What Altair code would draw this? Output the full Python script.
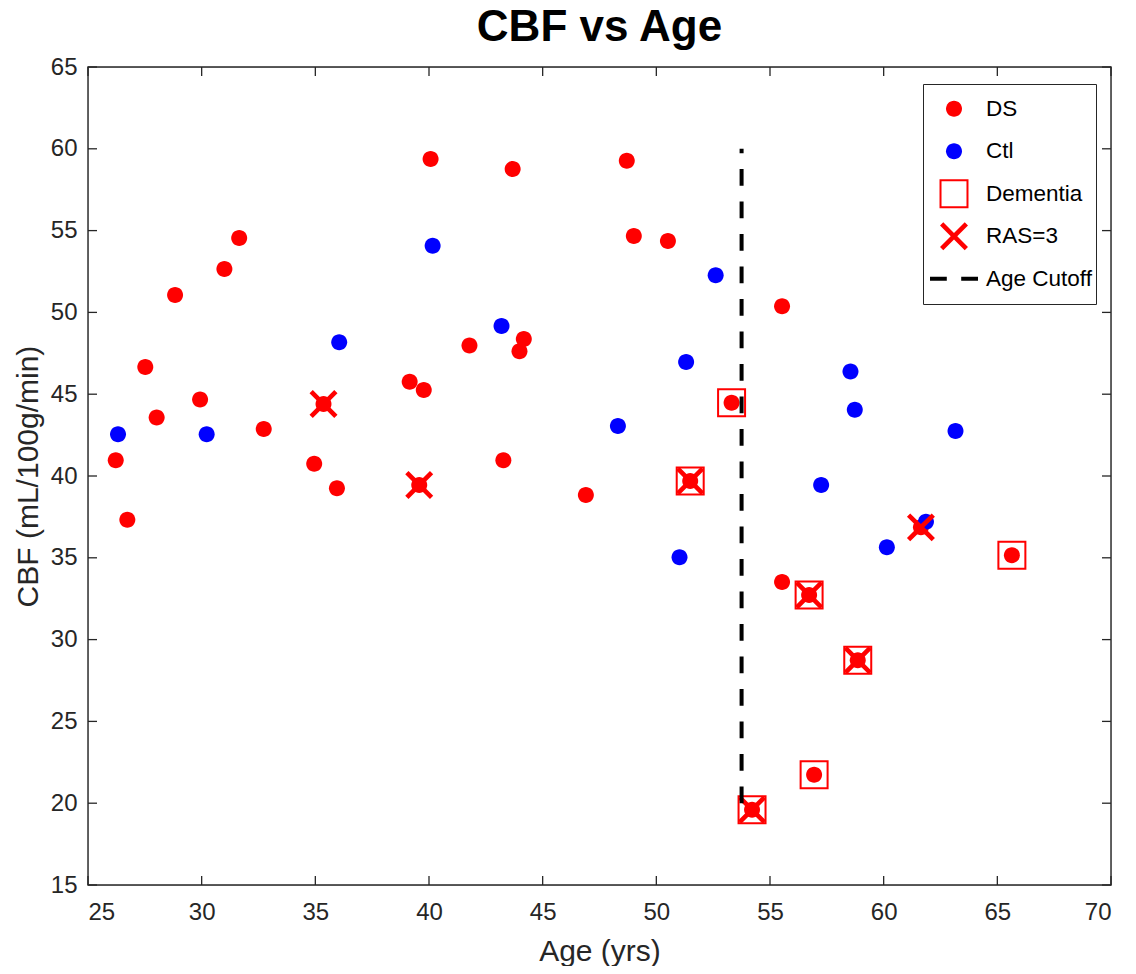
import altair as alt
import pandas as pd

# ---------------- data ----------------
ds_age = [26.22, 26.73, 27.52, 28.02, 28.83, 29.93, 31.0, 31.65, 32.73, 34.95,
          35.36, 35.95, 39.15, 39.57, 39.77, 40.07, 41.78, 43.27, 43.68, 43.98,
          44.17, 46.9, 48.7, 49.01, 50.51, 51.49, 53.31, 54.21, 55.53, 55.53,
          56.72, 56.94, 58.86, 61.64, 65.64]
ds_cbf = [40.96, 37.33, 46.66, 43.57, 51.06, 44.67, 52.65, 54.55, 42.87, 40.75,
          44.4, 39.25, 45.76, 39.45, 45.25, 59.38, 47.97, 40.96, 58.77, 47.62,
          48.37, 38.84, 59.27, 54.67, 54.36, 39.69, 44.48, 19.6, 50.37, 33.52,
          32.72, 21.74, 28.74, 36.86, 35.16]

ctl_age = [26.32, 30.22, 36.05, 40.16, 43.19, 48.31, 51.02, 51.31, 52.61, 57.25,
           58.54, 58.73, 60.14, 61.86, 63.16]
ctl_cbf = [42.55, 42.55, 48.17, 54.08, 49.17, 43.06, 35.03, 46.97, 52.27, 39.45,
           46.38, 44.05, 35.64, 37.2, 42.75]

dem_age = [53.31, 51.49, 56.72, 58.86, 56.94, 54.21, 65.64]
dem_cbf = [44.48, 39.69, 32.72, 28.74, 21.74, 19.6, 35.16]

ras_age = [35.36, 39.57, 61.64, 51.49, 56.72, 58.86, 54.21]
ras_cbf = [44.4, 39.45, 36.86, 39.69, 32.72, 28.74, 19.6]

cutoff_age = [53.75]
cutoff_lo = [20]
cutoff_hi = [60]

series_names = ["DS", "Ctl", "Dementia", "RAS=3", "Age Cutoff"]
x_ticks = [25, 30, 35, 40, 45, 50, 55, 60, 65, 70]
y_ticks = [15, 20, 25, 30, 35, 40, 45, 50, 55, 60, 65]

# ---------------- styles ----------------
W, H = 1023, 818
AX = "#262626"
FONT = "Liberation Sans"
SYM = 2304  # symbol size -> 48px box, paths below are in that unit box

circle_path = "M-0.3333,0A0.3333,0.3333,0,1,1,0.3333,0A0.3333,0.3333,0,1,1,-0.3333,0Z"
square_path = ("M-0.604,-0.604L0.604,-0.604L0.604,0.604L-0.604,0.604Z "
               "M-0.52,-0.52L-0.52,0.52L0.52,0.52L0.52,-0.52Z")
x_path = ("M0.583,0.447L0.447,0.583L0,0.136L-0.447,0.583L-0.583,0.447L-0.136,0"
          "L-0.583,-0.447L-0.447,-0.583L0,-0.136L0.447,-0.583L0.583,-0.447L0.136,0Z")
dash_path = ("M-1,-0.083L-0.3,-0.083L-0.3,0.083L-1,0.083Z "
             "M0.3,-0.083L1,-0.083L1,0.083L0.3,0.083Z")

color_scale = alt.Scale(domain=series_names,
                        range=["#ff0000", "#0000ff", "#ff0000", "#ff0000", "#000000"])
shape_scale = alt.Scale(domain=series_names,
                        range=[circle_path, circle_path, square_path, x_path, dash_path])

legend = alt.Legend(
    title=None, orient="none", legendX=835, legendY=17,
    strokeColor=AX, fillColor="white", padding=4, cornerRadius=0,
    labelFont=FONT, labelFontSize=22.5, labelColor="black",
    symbolSize=SYM, symbolStrokeWidth=0, symbolOpacity=1,
    clipHeight=41.5, rowPadding=0.5, symbolOffset=3, labelOffset=8,
)

x_scale = alt.Scale(domain=[25, 70], nice=False, zero=False)
y_scale = alt.Scale(domain=[15, 65], nice=False, zero=False)

x_axis = alt.Axis(values=x_ticks, ticks=False, tickSize=0, domain=False, grid=False,
                  labelFontSize=24, labelPadding=15, labelColor=AX, labelFont=FONT,
                  title="Age (yrs)", titleFontSize=30, titleFontWeight="normal",
                  titleColor=AX, titleFont=FONT, titleX=W / 2, titleY=75,
                  titleBaseline="alphabetic", titleAlign="center")
y_axis = alt.Axis(values=y_ticks, ticks=False, tickSize=0, domain=False, grid=False,
                  labelFontSize=24, labelPadding=11, labelColor=AX, labelFont=FONT,
                  title="CBF (mL/100g/min)", titleFontSize=30, titleFontWeight="normal",
                  titleColor=AX, titleFont=FONT, titleX=-51, titleY=H / 2,
                  titleBaseline="alphabetic", titleAlign="center", titleAngle=270)


def X(field):
    return alt.X(field, scale=x_scale, axis=x_axis)


def Y(field):
    return alt.Y(field, scale=y_scale, axis=y_axis)


def points(age, cbf, name):
    df = pd.DataFrame({"age": age, "cbf": cbf, "series": name})
    return alt.Chart(df).mark_point(filled=True, size=SYM, opacity=1, strokeWidth=0).encode(
        x=X("age:Q"),
        y=Y("cbf:Q"),
        color=alt.Color("series:N", scale=color_scale, legend=legend),
        shape=alt.Shape("series:N", scale=shape_scale, legend=legend),
    )


ds_layer = points(ds_age, ds_cbf, "DS")
ctl_layer = points(ctl_age, ctl_cbf, "Ctl")
dem_layer = points(dem_age, dem_cbf, "Dementia")
ras_layer = points(ras_age, ras_cbf, "RAS=3")

cut_df = pd.DataFrame({"age": cutoff_age, "cbf": cutoff_lo, "hi": cutoff_hi})
cut_layer = alt.Chart(cut_df).mark_rule(color="black", strokeWidth=4,
                                        strokeDash=[16.7, 15.8]).encode(
    x=X("age:Q"), y=Y("cbf:Q"), y2="hi:Q",
)

# inward tick marks and box frame (MATLAB style axes)
xt = pd.DataFrame({"age": x_ticks})
yt = pd.DataFrame({"cbf": y_ticks})
tick_style = dict(color=AX, strokeWidth=1.3)
xt_bottom = alt.Chart(xt).mark_rule(**tick_style).encode(
    x=X("age:Q"), y=alt.value(H), y2=alt.value(H - 9))
xt_top = alt.Chart(xt).mark_rule(**tick_style).encode(
    x=X("age:Q"), y=alt.value(0), y2=alt.value(9))
yt_left = alt.Chart(yt).mark_rule(**tick_style).encode(
    y=Y("cbf:Q"), x=alt.value(0), x2=alt.value(9))
yt_right = alt.Chart(yt).mark_rule(**tick_style).encode(
    y=Y("cbf:Q"), x=alt.value(W), x2=alt.value(W - 9))
frame = alt.Chart(pd.DataFrame({"f": [0]})).mark_rect(
    filled=False, stroke=AX, strokeWidth=1.4, fillOpacity=0).encode(
    x=alt.value(0), x2=alt.value(W), y=alt.value(0), y2=alt.value(H))

chart = alt.layer(
    xt_bottom, xt_top, yt_left, yt_right, frame,
    ds_layer, ctl_layer, dem_layer, ras_layer, cut_layer,
).properties(
    width=W, height=H,
    title=alt.TitleParams("CBF vs Age", font=FONT, fontSize=44, fontWeight="bold",
                          color="black", anchor="middle", offset=-30,
                          baseline="alphabetic"),
    autosize=alt.AutoSizeParams(type="none"),
    padding={"left": 80, "top": 59, "right": 6, "bottom": 81},
).configure_view(
    stroke=AX, strokeWidth=1.4, fill="white"
).configure(background="white")

chart.save("out.html", embed_options={"renderer": "svg", "actions": False})
